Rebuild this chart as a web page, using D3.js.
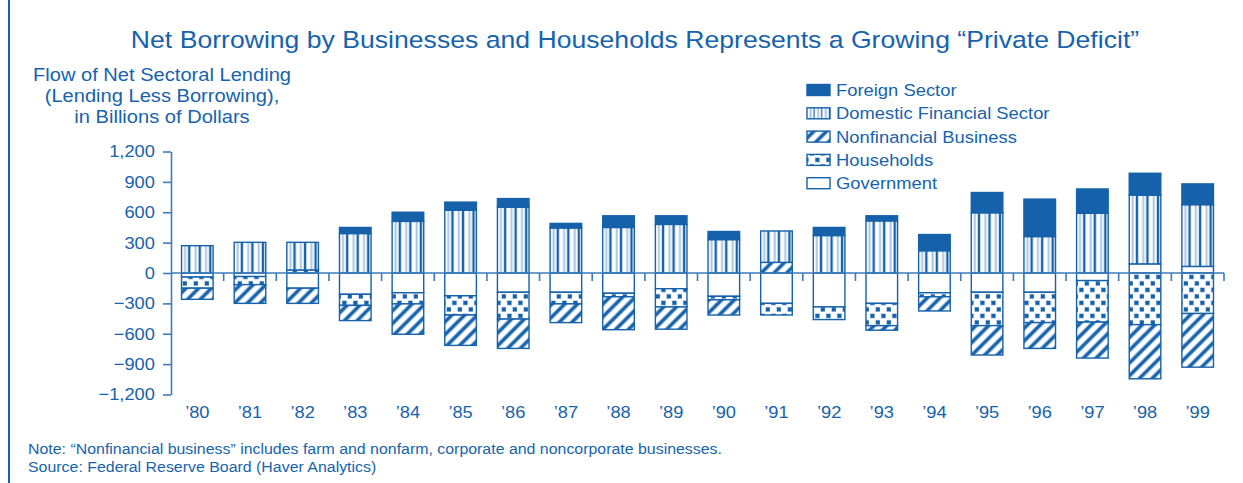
<!DOCTYPE html>
<html>
<head>
<meta charset="utf-8">
<script src="https://cdn.jsdelivr.net/npm/d3@7"></script>
<style>
  body { margin: 0; background: #fff; }
  text { font-family: "Liberation Sans", Arial, sans-serif; fill: #1763ab; }
</style>
</head>
<body>
<svg id="vis"></svg>
<script>
// values, billions of dollars
const years = ["’80", "’81", "’82", "’83", "’84", "’85", "’86", "’87", "’88", "’89",
               "’90", "’91", "’92", "’93", "’94", "’95", "’96", "’97", "’98", "’99"];
const government   = [-40, -35, -150, -210, -195, -225, -190, -190, -200, -155, -230, -300, -335, -300, -195, -190, -190, -75, 90, 65];
const households   = [-110, -80, 30, -110, -110, -190, -265, -115, -35, -180, -35, -115, -125, -220, -40, -330, -300, -410, -510, -400];
const nonfinancial = [-110, -185, -150, -150, -300, -300, -290, -185, -325, -220, -150, 105, 0, -45, -140, -290, -255, -355, -535, -530];
const domestic     = [270, 303, 273, 390, 510, 620, 650, 445, 450, 480, 330, 310, 370, 515, 220, 595, 360, 590, 680, 610];
const foreign      = [0, 0, 0, 60, 90, 80, 85, 45, 115, 85, 80, 0, 80, 50, 160, 200, 370, 240, 215, 205];

const yTicks = [-1200, -900, -600, -300, 0, 300, 600, 900, 1200];
const keys = ["government", "households", "nonfinancial", "domestic", "foreign"];
const legendNames = ["Foreign Sector", "Domestic Financial Sector", "Nonfinancial Business", "Households", "Government"];
const legendKeys = ["foreign", "domestic", "nonfinancial", "households", "government"];

const title = "Net Borrowing by Businesses and Households Represents a Growing “Private Deficit”";
const yTitle = ["Flow of Net Sectoral Lending", "(Lending Less Borrowing),", "in Billions of Dollars"];
const notes = ["Note: “Nonfinancial business” includes farm and nonfarm, corporate and noncorporate businesses.",
               "Source: Federal Reserve Board (Haver Analytics)"];

const width = 1243, height = 483;
const blue = "#1561aa", light = "#a9c6e4", axisBlue = "#3d7cbd";
const sx = 1.075; // the scan is a bit wider than it is tall

const rows = years.map((y, i) => ({
    year: y, government: government[i], households: households[i],
    nonfinancial: nonfinancial[i], domestic: domestic[i], foreign: foreign[i]
}));

const svg = d3.select("#vis").attr("width", width).attr("height", height);
svg.append("rect").attr("width", width).attr("height", height).attr("fill", "#fff");

// ---- patterns
const defs = svg.append("defs");
defs.append("pattern").attr("id", "p-foreign")
    .attr("patternUnits", "userSpaceOnUse").attr("width", 4).attr("height", 4)
    .append("rect").attr("width", 4).attr("height", 4).attr("fill", blue);

const dom = defs.append("pattern").attr("id", "p-domestic")
    .attr("patternUnits", "objectBoundingBox").attr("width", 1 / 3).attr("height", 1);
dom.append("rect").attr("width", 20).attr("height", 3000).attr("fill", "#fff");
dom.append("rect").attr("x", 2.5).attr("width", 2).attr("height", 3000).attr("fill", light);
dom.append("rect").attr("x", 6.5).attr("width", 2.4).attr("height", 3000).attr("fill", blue);

const nf = defs.append("pattern").attr("id", "p-nonfinancial")
    .attr("patternUnits", "userSpaceOnUse").attr("width", 9).attr("height", 9)
    .attr("patternTransform", "rotate(45)");
nf.append("rect").attr("width", 9).attr("height", 9).attr("fill", "#fff");
nf.append("rect").attr("x", 0).attr("width", 4.6).attr("height", 9).attr("fill", light);
nf.append("rect").attr("x", 0.8).attr("width", 3).attr("height", 9).attr("fill", blue);

const hh = defs.append("pattern").attr("id", "p-households")
    .attr("patternUnits", "userSpaceOnUse").attr("width", 11).attr("height", 13);
hh.append("rect").attr("width", 11).attr("height", 13).attr("fill", "#fff");
[[1.5, 2], [7, 8.5]].forEach(p => {
    hh.append("rect").attr("x", p[0] - 0.7).attr("y", p[1] - 0.7).attr("width", 5.2).attr("height", 5.2).attr("fill", light);
    hh.append("rect").attr("x", p[0]).attr("y", p[1]).attr("width", 3.8).attr("height", 3.8).attr("fill", blue);
});

const fills = {
    foreign: "url(#p-foreign)", domestic: "url(#p-domestic)", nonfinancial: "url(#p-nonfinancial)",
    households: "url(#p-households)", government: "#fff"
};

// ---- scales
const xScale = d3.scaleBand().domain(years).range([171, 1224]).paddingInner(0.4).paddingOuter(0.2);
const yScale = d3.scaleLinear().domain([-1200, 1200]).range([394.5, 151.5]);

function label(g, x, y, txt, size, anchor) {
    return g.append("text")
        .attr("transform", `translate(${x},${y}) scale(${sx},1)`)
        .attr("font-size", size).attr("text-anchor", anchor).text(txt);
}

// frame line on the left
svg.append("line").attr("x1", 9).attr("x2", 9).attr("y1", 0).attr("y2", height)
    .attr("stroke", blue).attr("stroke-width", 2);

// titles
label(svg, 635, 48, title, 24.75, "middle");
yTitle.forEach((t, i) => label(svg, 162, 80.5 + i * 21, t, 18.7, "middle"));

// ---- bars
const series = d3.stack().keys(keys).offset(d3.stackOffsetDiverging)(rows);
svg.append("g").selectAll("g").data(series).join("g")
    .attr("fill", s => fills[s.key])
    .selectAll("rect").data(s => s.filter(d => d[1] - d[0] !== 0)).join("rect")
    .attr("x", d => xScale(d.data.year))
    .attr("y", d => yScale(d[1]))
    .attr("width", xScale.bandwidth())
    .attr("height", d => yScale(d[0]) - yScale(d[1]))
    .attr("stroke", blue).attr("stroke-width", 1.4);

// ---- axes
const yAxis = svg.append("g").attr("transform", "translate(171,0)")
    .call(d3.axisLeft(yScale).tickValues(yTicks).tickSize(8).tickSizeOuter(0).tickPadding(7)
        .tickFormat(d3.format(",")));
yAxis.select(".domain").attr("stroke", axisBlue).attr("stroke-width", 1.6);
yAxis.selectAll(".tick line").attr("stroke", axisBlue).attr("stroke-width", 1.6);
yAxis.selectAll(".tick text").attr("font-size", 17).attr("font-family", null)
    .attr("transform", `scale(${sx},1)`).attr("fill", null);

const step = xScale.step();
const x0 = xScale.range()[0];
svg.append("line").attr("x1", x0).attr("x2", xScale.range()[1]).attr("y1", yScale(0)).attr("y2", yScale(0))
    .attr("stroke", axisBlue).attr("stroke-width", 1.6);
svg.append("g").selectAll("line").data(d3.range(1, years.length + 1)).join("line")
    .attr("x1", i => x0 + i * step).attr("x2", i => x0 + i * step)
    .attr("y1", yScale(0)).attr("y2", yScale(0) + 8)
    .attr("stroke", axisBlue).attr("stroke-width", 1.6);

const xl = svg.append("g");
years.forEach(y => label(xl, xScale(y) + xScale.bandwidth() / 2, 418, y, 17, "middle"));

// ---- legend
const lg = svg.append("g");
legendKeys.forEach((k, i) => {
    const cy = 90 + i * 23.3;
    lg.append("rect").attr("x", 807).attr("y", cy - 5.5).attr("width", 23).attr("height", 11)
        .attr("fill", fills[k]).attr("stroke", blue).attr("stroke-width", 1.4);
    label(lg, 836, cy + 6, legendNames[i], 17.1, "start");
});

// ---- notes
notes.forEach((t, i) => label(svg, 28, 454 + i * 18, t, 14.8, "start"));
</script>
</body>
</html>
